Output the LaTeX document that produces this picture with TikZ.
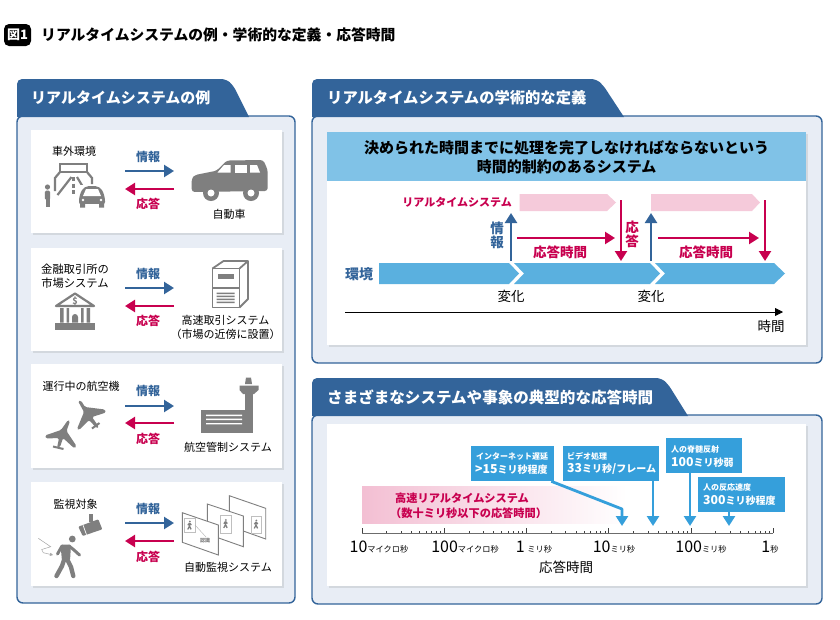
\documentclass[tikz,border=0pt]{standalone}
\usepackage{fontspec}
\setmainfont{Noto Sans CJK JP}
\usetikzlibrary{arrows.meta,shadows}
\definecolor{head_blue}{HTML}{33649A}
\definecolor{panel_fill}{HTML}{E8EDF5}
\definecolor{shadow_gray}{HTML}{D3D8DE}
\definecolor{red_ans}{HTML}{C8004F}
\definecolor{icon_gray}{HTML}{7F7F7F}
\definecolor{def_blue}{HTML}{80C2E7}
\definecolor{band_blue}{HTML}{5AB0DF}
\definecolor{call_blue}{HTML}{359FDB}
\definecolor{pink_box}{HTML}{F5CADA}
\definecolor{pink_left}{HTML}{F3BFD3}
\definecolor{pink_mid}{HTML}{F6D0DF}
\newcommand{\fs}[1]{\fontsize{#1}{#1}\selectfont}
\tikzset{
  tab_text/.style={text=white,font=\fs{15}\bfseries,inner sep=0pt,anchor=west},
  panel/.style={draw=head_blue,line width=1.4pt,fill=panel_fill,rounded corners=6pt},
  tab_shape/.style={fill=head_blue},
  card/.style={fill=white,drop shadow={shadow xshift=1.5pt,shadow yshift=-1.5pt,fill=shadow_gray,opacity=1}},
  txt/.style={inner sep=0pt,font=\fs{11},align=center},
  info_label/.style={inner sep=0pt,font=\fs{12}\bfseries,text=head_blue},
  ans_label/.style={inner sep=0pt,font=\fs{12}\bfseries,text=red_ans},
  info_arrow/.style={draw=head_blue,line width=2.3pt,-{Triangle[length=10pt,width=12pt]}},
  ans_arrow/.style={draw=red_ans,line width=2.3pt,-{Triangle[length=10pt,width=12pt]}},
  icon_line/.style={draw=icon_gray,line width=2.2pt},
  callout/.style={fill=call_blue,draw=white,line width=0.6pt,inner sep=0pt},
  call_small/.style={inner sep=0pt,anchor=west,text=white,font=\fs{8}\bfseries},
  call_big/.style={inner sep=0pt,anchor=west,text=white,font=\fs{10}\bfseries},
  call_arrow/.style={draw=call_blue,line width=2.8pt,-{Triangle[length=10pt,width=12pt]}},
  axis_label/.style={inner sep=0pt,font=\fs{16}},
  walker/.pic={
    \fill[icon_gray] (0.4,-4.6) circle (1);
    \draw[icon_gray,line width=1.3pt] (0,-3)--(0,0) (0,-3)--(-1.6,-0.8) (0,-3)--(1.8,-1) (0,0)--(-1.7,3.4) (0,0)--(1.6,3.4);
  }
}
\begin{document}
\begin{tikzpicture}[x=1pt,y=-1pt]
\useasboundingbox (0,0) rectangle (840,619);
\fill[white] (0,0) rectangle (840,619);

% title
\node[fill=black,rounded corners=5pt,minimum width=27pt,minimum height=22pt,inner sep=0pt,text=white,font=\fs{13}\bfseries] (fig_no) at (17.5,35) {図1};
\node[inner sep=0pt,anchor=west,font=\fs{14.8}\bfseries] (fig_title) at (41,35) {リアルタイムシステムの例・学術的な定義・応答時間};

% left panel
\path[panel] (17,116) rectangle (295,603);
\path[tab_shape,rounded corners=5pt] (17,117) -- (17,79) -- (226,79) -- (233,85) [sharp corners] -- (249,117) -- cycle;
\node[tab_text] (tab_left) at (31,98) {リアルタイムシステムの例};
\path[card] (31,130) rectangle (282,233);
\path[card] (31,248) rectangle (282,351);
\path[card] (31,364) rectangle (282,468);
\path[card] (31,482) rectangle (282,586);

% info and answer arrows of the cards
\coordinate (a1l) at (125,171); \coordinate (a1r) at (174,171);
\coordinate (b1l) at (125,189); \coordinate (b1r) at (174,189);
\coordinate (a2l) at (125,288); \coordinate (a2r) at (174,288);
\coordinate (b2l) at (125,306); \coordinate (b2r) at (174,306);
\coordinate (a3l) at (125,406); \coordinate (a3r) at (174,406);
\coordinate (b3l) at (125,423); \coordinate (b3r) at (174,423);
\coordinate (a4l) at (125,523); \coordinate (a4r) at (174,523);
\coordinate (b4l) at (125,541); \coordinate (b4r) at (174,541);
\draw[info_arrow] (a1l) -- (a1r);
\draw[ans_arrow] (b1r) -- (b1l);
\draw[info_arrow] (a2l) -- (a2r);
\draw[ans_arrow] (b2r) -- (b2l);
\draw[info_arrow] (a3l) -- (a3r);
\draw[ans_arrow] (b3r) -- (b3l);
\draw[info_arrow] (a4l) -- (a4r);
\draw[ans_arrow] (b4r) -- (b4l);
\node[info_label] (info1) at (148,157) {情報};
\node[ans_label] (ans1) at (148,204) {応答};
\node[info_label] (info2) at (148,274) {情報};
\node[ans_label] (ans2) at (148,321) {応答};
\node[info_label] (info3) at (148,391) {情報};
\node[ans_label] (ans3) at (148,439) {応答};
\node[info_label] (info4) at (148,509) {情報};
\node[ans_label] (ans4) at (148,557) {応答};

% card 1
\node[txt] (road_lbl) at (74,151) {車外環境};
\node[txt] (car_lbl) at (229,214) {自動車};
\draw[icon_line] (60,164) rectangle (87,172);
\draw[icon_line] (55,191) -- (55,178) -- (60,172) (87,172) -- (92,178) -- (92,184);
\draw[icon_line] (71.5,177) -- (57.5,195);
\draw[icon_line,dash pattern=on 4pt off 2.5pt] (73.5,177) -- (73.5,196);
\draw[icon_line] (77,177) -- (83,187);
\fill[icon_gray] (47.5,187) circle (2.6);
\fill[icon_gray,rounded corners=1.5pt] (44.8,190.5) rectangle (50.2,200);
\fill[icon_gray] (45.5,199) rectangle (49.5,207);
\fill[white] (77.5,184.5) rectangle (106.5,208);
\fill[icon_gray,rounded corners=5pt] (79,207) -- (79,196) -- (84,186) -- (100,186) -- (105,196) -- (105,207) -- cycle;
\fill[white] (83,196) -- (86,189) -- (98,189) -- (101,196) -- cycle;
\fill[white] (79,204) rectangle (105,208.5);
\fill[white] (83,200) circle (1.3) (101,200) circle (1.3);
\fill[icon_gray] (80,204) rectangle (85,207.5) (99,204) rectangle (104,207.5);
\fill[icon_gray,rounded corners=3pt] (191.7,192) -- (191.7,178.3) -- (195,175) -- (216.7,170.7) -- (226.7,160.5) -- (263.3,160) -- (267.7,170) -- (267.7,191) -- cycle;
\fill[white] (217.5,172.5) -- (224,165) -- (230.5,165) -- (230.5,172.5) -- cycle;
\fill[white] (234.5,165) rectangle (246.5,172.5);
\fill[white] (250,165) -- (257,165) -- (260,172.5) -- (250,172.5) -- cycle;
\fill[white] (190,192) rectangle (270,201);
\fill[icon_gray] (211,193) circle (8) (251,193) circle (8);
\fill[white] (211,193) circle (3.5) (251,193) circle (3.5);

% card 2
\node[txt,font=\fs{11.3}] (market_lbl) at (75,276) {金融取引所の\\[3pt]市場システム};
\node[txt] (hft_lbl) at (225.5,327) {高速取引システム\\[3pt]（市場の近傍に設置）};
\draw[icon_line,line join=round] (75,293.5) -- (56,306) -- (94,306) -- cycle;
\node[inner sep=0pt,text=icon_gray,font=\fs{9}\bfseries] (dollar) at (75,301) {\$};
\fill[icon_gray] (55,322.5) rectangle (95,329.5);
\fill[icon_gray] (60,308) rectangle (63.5,322.5) (66.5,308) rectangle (69,322.5) (81,308) rectangle (83.5,322.5) (86.5,308) rectangle (90,322.5);
\fill[icon_gray] (72,322.5) -- (72,317) arc (180:360:3) -- (78,322.5) -- cycle;
\draw[icon_gray,line width=1.8pt,line join=round] (212.5,268.5) rectangle (239.5,307.5);
\draw[icon_gray,line width=1.8pt,line join=round] (212.5,268.5) -- (223.5,261) -- (248,261) -- (248,299) -- (239.5,307.5) (239.5,268.5) -- (248,261) (212.5,288) -- (239.5,288);
\fill[icon_gray] (217.5,273.5) rectangle (234,278.5);
\fill[icon_gray] (216.5,292.5) rectangle (234.5,294) (216.5,295.5) rectangle (234.5,297) (216.5,298.5) rectangle (234.5,300) (216.5,301.5) rectangle (234.5,303);

% card 3
\node[txt] (plane_lbl) at (81,386) {運行中の航空機};
\node[txt] (atc_lbl) at (228,447) {航空管制システム};
\fill[icon_gray,rounded corners=1.5pt] (78,401) -- (81,400.5) -- (85,407) -- (105,409.5) -- (106,412.5) -- (92,417) -- (99,427) -- (97,428.5) -- (89,420) -- (79,430) -- (77,429) -- (84,412) -- cycle;
\draw[icon_gray,line width=2pt] (92,428.5) -- (99.5,423);
\fill[icon_gray,rounded corners=1.5pt] (68,420) -- (70,421) -- (66.5,431) -- (76.5,446) -- (74.5,448.5) -- (63,438) -- (60,447) -- (57,448) -- (59,438) -- (46,438.5) -- (45,435.5) -- (61,430) -- cycle;
\draw[icon_gray,line width=2pt] (53,446.5) -- (63.5,449);
\fill[icon_gray] (201,409.5) rectangle (252.5,433);
\fill[icon_gray] (244.5,390) rectangle (252.5,410);
\fill[icon_gray] (239.5,385.5) -- (258.5,385.5) -- (258.5,390) -- (254,394) -- (243,394) -- (239.5,390) -- cycle;
\fill[icon_gray] (245,384) -- (246,377.5) -- (251,377.5) -- (252,384) -- cycle;
\fill[white] (206,414.7) rectangle (242,416) (206,418.7) rectangle (242,420) (206,423) rectangle (242,424.3);

% card 4
\node[txt] (watch_lbl) at (75.5,504) {監視対象};
\node[txt] (auto_lbl) at (228,567) {自動監視システム};
\fill[icon_gray] (89.3,514) rectangle (93.3,522);
\fill[icon_gray,rounded corners=1pt] (78.3,526.7) -- (98.3,519.3) -- (102.3,529.3) -- (82.7,536) -- cycle;
\draw[white,line width=0.7pt] (83,525) -- (86.5,534.7);
\fill[icon_gray] (72.3,539) circle (3.4);
\fill[icon_gray,rounded corners=2pt] (60.5,544.5) -- (71,544.5) -- (70,561) -- (62,561) -- cycle;
\draw[icon_gray,line width=3pt,line cap=round,line join=round] (62,546) -- (57.5,554) (69,546) -- (74,550) -- (79.5,555);
\draw[icon_gray,line width=4.4pt,line cap=round,line join=round] (64,560) -- (62,566) -- (56.5,576) (67.5,560) -- (71,567) -- (73.3,576);
\draw[icon_gray!70,line width=0.5pt,-{Triangle[length=3pt,width=3pt]}] (38.3,538.3) -- (50.7,546.7) -- (41.7,549.5) -- (43.3,552.7) -- (53,555);
\draw[icon_gray,line width=0.9pt,fill=white] (229.3,495.7) -- (265.7,508.3) -- (265.7,539) -- (229.3,526) -- cycle;
\draw[icon_gray,line width=0.9pt,fill=white] (207.3,504) -- (243.3,516) -- (243.3,546.7) -- (207.3,534) -- cycle;
\draw[icon_gray,line width=0.9pt,fill=white] (182.3,512.7) -- (218.3,525) -- (218.3,555) -- (182.3,542.3) -- cycle;
\draw[icon_gray!50,line width=0.4pt] (251,516) rectangle (261,533) (220.5,515) rectangle (231,533) (184.5,518) rectangle (195,532);
\pic at (256,525) {walker};
\pic at (225.5,524.5) {walker};
\pic at (189.5,526) {walker};
\draw[icon_gray!60,line width=0.4pt] (195,525) -- (206,537);
\node[inner sep=0pt,text=icon_gray,font=\fs{5}\bfseries] (auth) at (205,541) {認識};

% definition panel
\path[panel] (312,116) rectangle (822,363);
\path[tab_shape,rounded corners=5pt] (312,117) -- (312,79) -- (596,79) -- (603,85) [sharp corners] -- (624,117) -- cycle;
\node[tab_text,font=\fs{15.3}\bfseries] (tab_def) at (327,98) {リアルタイムシステムの学術的な定義};
\path[card] (327,132) rectangle (806,345);
\node[fill=def_blue,minimum width=479pt,minimum height=49pt,inner sep=0pt,anchor=north west,text depth=0pt,align=center,font=\fs{15}\bfseries] (def_box) at (327,132) {決められた時間までに処理を完了しなければならないという\\[4pt]時間的制約のあるシステム};
\node[inner sep=0pt,anchor=east,text=red_ans,font=\fs{11}\bfseries] (rts_lbl) at (512,202) {リアルタイムシステム};
\fill[pink_box] (519.5,194) -- (607,194) -- (616,202.5) -- (607,211) -- (519.5,211) -- cycle;
\fill[pink_box] (651,194) -- (752,194) -- (760,202.5) -- (752,211) -- (651,211) -- cycle;
\fill[band_blue] (379,263) -- (509,263) -- (519,273.5) -- (509,284) -- (379,284) -- cycle;
\fill[band_blue] (514,263) -- (650,263) -- (660,273.5) -- (650,284) -- (514,284) -- (524,273.5) -- cycle;
\fill[band_blue] (655,263) -- (774,263) -- (785,273.5) -- (774,284) -- (655,284) -- (665,273.5) -- cycle;
\coordinate (up1a) at (511,261); \coordinate (up1b) at (511,213);
\coordinate (up2a) at (651,261); \coordinate (up2b) at (651,213);
\coordinate (dn1a) at (621,200); \coordinate (dn1b) at (621,261);
\coordinate (dn2a) at (765,200); \coordinate (dn2b) at (765,261);
\coordinate (rt1a) at (517,238); \coordinate (rt1b) at (615,238);
\coordinate (rt2a) at (658,238); \coordinate (rt2b) at (759,238);
\draw[info_arrow] (up1a) -- (up1b);
\draw[info_arrow] (up2a) -- (up2b);
\draw[ans_arrow] (dn1a) -- (dn1b);
\draw[ans_arrow] (dn2a) -- (dn2b);
\draw[ans_arrow] (rt1a) -- (rt1b);
\draw[ans_arrow] (rt2a) -- (rt2b);
\node[info_label,font=\fs{13.5}\bfseries,align=center] (info_v) at (497,235) {情\\[0.5pt]報};
\node[ans_label,font=\fs{13.5}\bfseries,align=center] (ans_v) at (632,234) {応\\[0.5pt]答};
\node[ans_label,font=\fs{13.5}\bfseries] (resp1) at (560,252) {応答時間};
\node[ans_label,font=\fs{13.5}\bfseries] (resp2) at (706,252) {応答時間};
\node[info_label,font=\fs{14}\bfseries] (env) at (359,274) {環境};
\node[txt,font=\fs{13.5}] (chg1) at (511,296) {変化};
\node[txt,font=\fs{13.5}] (chg2) at (651,296) {変化};
\coordinate (t0) at (345,312); \coordinate (t1) at (783,312);
\draw[black,line width=0.8pt,-{Triangle[length=8pt,width=8pt]}] (t0) -- (t1);
\node[txt,font=\fs{13.5}] (time_lbl) at (771,326) {時間};

% response time panel
\path[panel] (312,415) rectangle (822,604);
\path[tab_shape,rounded corners=5pt] (312,416) -- (312,378) -- (661,378) -- (668,384) [sharp corners] -- (688,416) -- cycle;
\node[tab_text,font=\fs{15.55}\bfseries] (tab_resp) at (327,397) {さまざまなシステムや事象の典型的な応答時間};
\path[card] (327,424) rectangle (806,586);
\shade[left color=pink_left,middle color=pink_mid,right color=white] (362,486) rectangle (627,523);
\node[inner sep=0pt,anchor=west,text=red_ans,font=\fs{11.2}\bfseries] (fast1) at (395,498) {高速リアルタイムシステム};
\node[inner sep=0pt,anchor=west,text=red_ans,font=\fs{11.2}\bfseries] (fast2) at (390,513) {（数十ミリ秒以下の応答時間）};

% log axis
\coordinate (ax0) at (362,533); \coordinate (ax1) at (773,533);
\draw[icon_gray!85!black,line width=1pt] (ax0) -- (ax1);
\foreach \d in {0,...,4}{
  \draw[black!75,line width=0.6pt] ({362+82.2*\d},533) -- ({362+82.2*\d},528);
  \foreach \k in {2,...,9}{
    \draw[black!75,line width=0.5pt] ({362+82.2*(\d+log10(\k))},533) -- ({362+82.2*(\d+log10(\k))},530.5);
  }
}
\draw[black!75,line width=0.6pt] (773,533) -- (773,528);
\node[axis_label] (lab1) at (379,547) {10{\fs{8.2}マイクロ秒}};
\node[axis_label] (lab2) at (465,547) {100{\fs{8.2}マイクロ秒}};
\node[axis_label] (lab3) at (534,547) {1\,{\fs{8.2}ミリ秒}};
\node[axis_label] (lab4) at (614,547) {10{\fs{8.2}ミリ秒}};
\node[axis_label] (lab5) at (701,547) {100{\fs{8.2}ミリ秒}};
\node[axis_label] (lab6) at (770,547) {1{\fs{8.2}秒}};
\node[txt,font=\fs{13.5}] (axis_title) at (566,567) {応答時間};

% callouts
\coordinate (inet_bend) at (622,509); \coordinate (inet_tip) at (622,526);
\coordinate (video_tip) at (653,526);
\coordinate (spine_tip) at (690,526);
\coordinate (react_tip) at (729,526);
\node[callout,minimum width=84pt,minimum height=36pt] (inet) at (512,463) {};
\node[callout,minimum width=97pt,minimum height=36pt] (video) at (610.5,463) {};
\node[callout,minimum width=77pt,minimum height=36pt] (spine) at (703.5,455) {};
\node[callout,minimum width=88pt,minimum height=36pt] (react) at (741,494) {};
\draw[call_arrow,line join=round] ([xshift=-3pt]inet.south east) -- (inet_bend) -- (inet_tip);
\draw[call_arrow] (video_tip |- video.south) -- (video_tip);
\draw[call_arrow] (spine_tip |- spine.south) -- (spine_tip);
\draw[call_arrow] (react_tip |- react.south) -- (react_tip);
\node[call_small] (inet1) at (476,456) {インターネット遅延};
\node[call_big] (inet2) at (475,470) {{\fs{12.3}>15}ミリ秒程度};
\node[call_small] (video1) at (567,456) {ビデオ処理};
\node[call_big] (video2) at (567,469) {{\fs{12.3}33}ミリ秒{\fs{11}/}フレーム};
\node[call_small] (spine1) at (671,449) {人の脊髄反射};
\node[call_big] (spine2) at (671,462) {{\fs{12.3}100}ミリ秒弱};
\node[call_small] (react1) at (703,487) {人の反応速度};
\node[call_big] (react2) at (703,500) {{\fs{12.3}300}ミリ秒程度};
\end{tikzpicture}
\end{document}
